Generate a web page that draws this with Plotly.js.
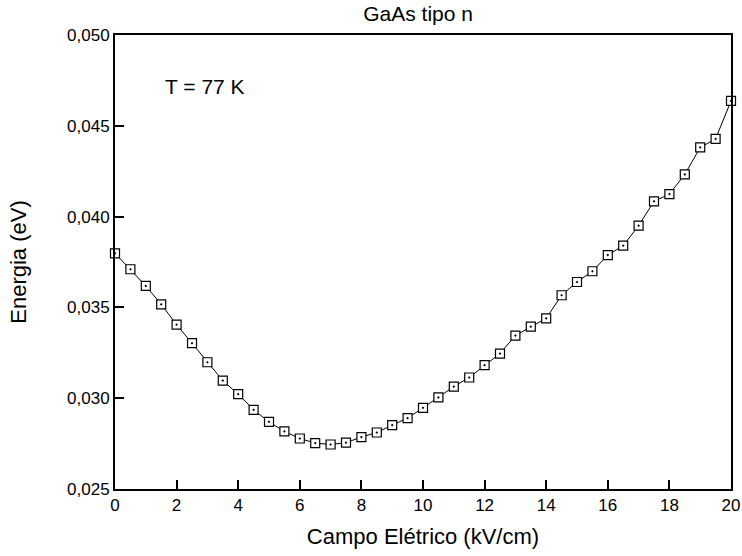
<!DOCTYPE html>
<html>
<head>
<meta charset="utf-8">
<script src="https://cdn.plot.ly/plotly-3.0.1.min.js"></script>
<style>html,body{margin:0;padding:0;background:#fff;}#chart{width:742px;height:556px;}</style>
</head>
<body>
<div id="chart"></div>
<script>
const campo = [0,0.5,1,1.5,2,2.5,3,3.5,4,4.5,5,5.5,6,6.5,7,7.5,8,8.5,9,9.5,10,10.5,11,11.5,12,12.5,13,13.5,14,14.5,15,15.5,16,16.5,17,17.5,18,18.5,19,19.5,20];
const energia = [0.03798,0.03710,0.03618,0.03517,0.03405,0.03303,0.03198,0.03097,0.03022,0.02936,0.02870,0.02817,0.02778,0.02753,0.02745,0.02755,0.02786,0.02811,0.02852,0.02890,0.02947,0.03004,0.03064,0.03114,0.03182,0.03246,0.03345,0.03394,0.03440,0.03567,0.03640,0.03699,0.03788,0.03840,0.03950,0.04084,0.04124,0.04232,0.04381,0.04428,0.04637];
const titulo = "GaAs tipo n";
const xTitulo = "Campo Elétrico (kV/cm)";
const yTitulo = "Energia (eV)";
const anotacao = "T = 77 K";

const font = "Liberation Sans, Arial, sans-serif";
const xRange = [0, 20], yRange = [0.025, 0.050];
const trace = {
  x: campo, y: energia, type: 'scatter', mode: 'lines+markers',
  line: {color: 'black', width: 1},
  marker: {symbol: 'square-dot', size: 9, color: 'white', line: {color: 'black', width: 1.2}},
  cliponaxis: false, showlegend: false
};
// tick-only axes placed on a plot edge, with outside ticks pointing into the plot
function tickAxis(over, side, pos, range, dtick, len) {
  return {
    overlaying: over, anchor: 'free', position: pos, side: side,
    range: range, dtick: dtick, tick0: range[0],
    ticks: 'outside', ticklen: len, tickwidth: 2, tickcolor: 'black',
    showticklabels: false, showline: false, showgrid: false, zeroline: false,
    fixedrange: true
  };
}
const layout = {
  width: 742, height: 556,
  margin: {l: 115, r: 11, t: 35, b: 67},
  paper_bgcolor: 'white', plot_bgcolor: 'white',
  separators: ',.',
  font: {family: font, color: 'black', size: 17},
  title: {text: titulo, font: {family: font, size: 21, color: 'black'}, x: 0.492, xref: 'paper', xanchor: 'center', yref: 'container', y: 0.975, yanchor: 'middle'},
  xaxis: {
    range: xRange, dtick: 2,
    showline: true, linecolor: 'black', linewidth: 2, mirror: true,
    ticks: 'inside', ticklen: 9, tickwidth: 2, tickcolor: 'black',
    showgrid: false, zeroline: false,
    tickfont: {family: font, size: 17, color: 'black'},
    title: {text: xTitulo, font: {family: font, size: 22, color: 'black'}, standoff: 14}
  },
  yaxis: {
    range: yRange, dtick: 0.005, tickformat: '.3f',
    showline: true, linecolor: 'black', linewidth: 2, mirror: true,
    ticks: 'inside', ticklen: 9, tickwidth: 2, tickcolor: 'black',
    showgrid: false, zeroline: false,
    tickfont: {family: font, size: 17, color: 'black'},
    title: {text: yTitulo, font: {family: font, size: 22, color: 'black'}, standoff: 34}
  },
  xaxis2: tickAxis('x', 'top', 0, xRange, 2, 9),
  xaxis3: tickAxis('x', 'top', 0, xRange, 1, 5),
  xaxis4: tickAxis('x', 'bottom', 1, xRange, 2, 9),
  xaxis5: tickAxis('x', 'bottom', 1, xRange, 1, 5),
  yaxis2: tickAxis('y', 'right', 0, yRange, 0.005, 9),
  yaxis3: tickAxis('y', 'right', 0, yRange, 0.0025, 5),
  yaxis4: tickAxis('y', 'left', 1, yRange, 0.005, 9),
  yaxis5: tickAxis('y', 'left', 1, yRange, 0.0025, 5),
  annotations: [{
    text: anotacao, x: 1.55, y: 0.04718, xref: 'x', yref: 'y', xanchor: 'left', yanchor: 'middle',
    showarrow: false, font: {family: font, size: 21, color: 'black'}
  }]
};
Plotly.newPlot('chart', [trace], layout, {displayModeBar: false});
</script>
</body>
</html>
